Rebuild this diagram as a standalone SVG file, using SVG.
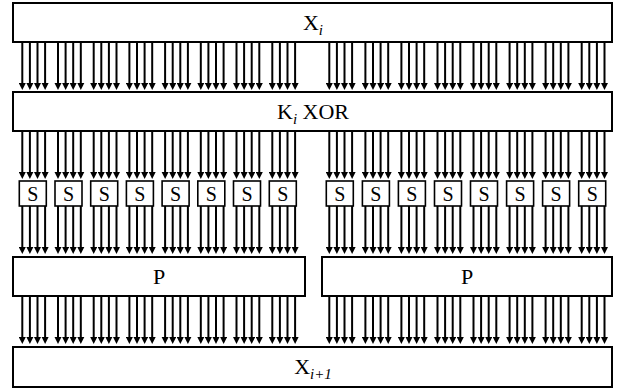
<svg xmlns="http://www.w3.org/2000/svg" xmlns:xlink="http://www.w3.org/1999/xlink" width="619" height="390" viewBox="0 0 619 390">
<style>
.box{fill:#fff;stroke:#000;stroke-width:2}
.sbox{fill:#fff;stroke:#000;stroke-width:1.6}
.ln{stroke:#000;stroke-width:2;fill:none}
.lbl{font-family:"Liberation Serif","Times New Roman",serif;font-size:22px;fill:#000}
.s{font-family:"Liberation Serif","Times New Roman",serif;font-size:20px;fill:#000}
.sub{font-style:italic;font-size:15px}
</style>
<defs>
<marker id="ah" viewBox="0 0 10 10" refX="4" refY="5" markerWidth="7.5" markerHeight="7.5" markerUnits="userSpaceOnUse" orient="auto">
<path d="M0,0 L10,5 L0,10 z" fill="#000"/>
</marker>
<g id="quad">
<line class="ln" x1="0" y1="0" x2="0" y2="43.5" marker-end="url(#ah)"/>
<line class="ln" x1="7.6" y1="0" x2="7.6" y2="43.5" marker-end="url(#ah)"/>
<line class="ln" x1="15.2" y1="0" x2="15.2" y2="43.5" marker-end="url(#ah)"/>
<line class="ln" x1="22.8" y1="0" x2="22.8" y2="43.5" marker-end="url(#ah)"/>
</g>
<g id="col">
<use xlink:href="#quad" y="42"/>
<use xlink:href="#quad" y="131"/>
<use xlink:href="#quad" y="206"/>
<use xlink:href="#quad" y="296"/>
</g>
</defs>
<g id="connectors">
<use xlink:href="#col" x="22.3"/>
<use xlink:href="#col" x="58"/>
<use xlink:href="#col" x="93.7"/>
<use xlink:href="#col" x="129.4"/>
<use xlink:href="#col" x="165.1"/>
<use xlink:href="#col" x="200.8"/>
<use xlink:href="#col" x="236.5"/>
<use xlink:href="#col" x="272.3"/>
<use xlink:href="#col" x="329.3"/>
<use xlink:href="#col" x="365.4"/>
<use xlink:href="#col" x="401.4"/>
<use xlink:href="#col" x="437.5"/>
<use xlink:href="#col" x="473.5"/>
<use xlink:href="#col" x="509.6"/>
<use xlink:href="#col" x="545.6"/>
<use xlink:href="#col" x="581.7"/>
</g>
<g id="xi">
<rect class="box" x="13" y="3" width="599" height="39"/>
<text class="lbl" x="313" y="30" text-anchor="middle">X<tspan class="sub" dy="5">i</tspan></text>
</g>
<g id="kxor">
<rect class="box" x="13" y="92" width="599" height="39"/>
<text class="lbl" x="313" y="119" text-anchor="middle">K<tspan class="sub" dy="5">i</tspan><tspan dy="-5"> XOR</tspan></text>
</g>
<g id="s1"><rect class="sbox" x="19.3" y="181" width="27" height="25"/><text class="s" x="32.8" y="200.5" text-anchor="middle">S</text></g>
<g id="s2"><rect class="sbox" x="55" y="181" width="27" height="25"/><text class="s" x="68.5" y="200.5" text-anchor="middle">S</text></g>
<g id="s3"><rect class="sbox" x="90.7" y="181" width="27" height="25"/><text class="s" x="104.2" y="200.5" text-anchor="middle">S</text></g>
<g id="s4"><rect class="sbox" x="126.4" y="181" width="27" height="25"/><text class="s" x="139.9" y="200.5" text-anchor="middle">S</text></g>
<g id="s5"><rect class="sbox" x="162.1" y="181" width="27" height="25"/><text class="s" x="175.6" y="200.5" text-anchor="middle">S</text></g>
<g id="s6"><rect class="sbox" x="197.8" y="181" width="27" height="25"/><text class="s" x="211.3" y="200.5" text-anchor="middle">S</text></g>
<g id="s7"><rect class="sbox" x="233.5" y="181" width="27" height="25"/><text class="s" x="247" y="200.5" text-anchor="middle">S</text></g>
<g id="s8"><rect class="sbox" x="269.3" y="181" width="27" height="25"/><text class="s" x="282.8" y="200.5" text-anchor="middle">S</text></g>
<g id="s9"><rect class="sbox" x="326.3" y="181" width="27" height="25"/><text class="s" x="339.8" y="200.5" text-anchor="middle">S</text></g>
<g id="s10"><rect class="sbox" x="362.4" y="181" width="27" height="25"/><text class="s" x="375.9" y="200.5" text-anchor="middle">S</text></g>
<g id="s11"><rect class="sbox" x="398.4" y="181" width="27" height="25"/><text class="s" x="411.9" y="200.5" text-anchor="middle">S</text></g>
<g id="s12"><rect class="sbox" x="434.5" y="181" width="27" height="25"/><text class="s" x="448" y="200.5" text-anchor="middle">S</text></g>
<g id="s13"><rect class="sbox" x="470.5" y="181" width="27" height="25"/><text class="s" x="484" y="200.5" text-anchor="middle">S</text></g>
<g id="s14"><rect class="sbox" x="506.6" y="181" width="27" height="25"/><text class="s" x="520.1" y="200.5" text-anchor="middle">S</text></g>
<g id="s15"><rect class="sbox" x="542.6" y="181" width="27" height="25"/><text class="s" x="556.1" y="200.5" text-anchor="middle">S</text></g>
<g id="s16"><rect class="sbox" x="578.7" y="181" width="27" height="25"/><text class="s" x="592.2" y="200.5" text-anchor="middle">S</text></g>
<g id="p1">
<rect class="box" x="13" y="257" width="292" height="39"/>
<text class="lbl" x="159" y="284" text-anchor="middle">P</text>
</g>
<g id="p2">
<rect class="box" x="322" y="257" width="290" height="39"/>
<text class="lbl" x="467" y="284" text-anchor="middle">P</text>
</g>
<g id="xi1">
<rect class="box" x="13" y="347" width="599" height="40"/>
<text class="lbl" x="313" y="374" text-anchor="middle">X<tspan class="sub" dy="5">i+1</tspan></text>
</g>
</svg>
